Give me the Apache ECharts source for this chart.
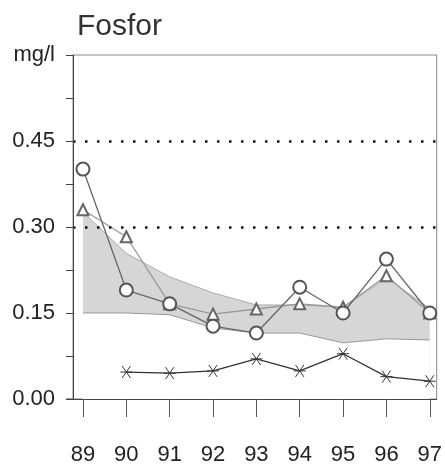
<!DOCTYPE html>
<html><head><meta charset="utf-8">
<script src="https://cdn.jsdelivr.net/npm/echarts@6/dist/echarts.min.js"></script>
<style>html,body{margin:0;padding:0;background:#fff}#c{width:445px;height:467px}</style>
</head><body><div id="c"></div>
<script>
const years = [89, 90, 91, 92, 93, 94, 95, 96, 97];
const circleVals = [0.401, 0.190, 0.166, 0.127, 0.115, 0.195, 0.150, 0.244, 0.150];
const triangleVals = [0.330, 0.283, 0.166, 0.148, 0.157, 0.166, 0.160, 0.215, 0.150];
const starYears = [90, 91, 92, 93, 94, 95, 96, 97];
const starVals = [0.047, 0.045, 0.049, 0.070, 0.049, 0.079, 0.039, 0.031];
const bandLower = [0.150, 0.150, 0.147, 0.124, 0.115, 0.115, 0.098, 0.105, 0.103];
const bandUpper = [0.326, 0.254, 0.213, 0.185, 0.164, 0.164, 0.160, 0.211, 0.158];
const yTickLabels = ['0.00', '0.15', '0.30', '0.45'];
const refLines = [0.30, 0.45];

const FONT = '"Liberation Sans", Arial, sans-serif';
const chart = echarts.init(document.getElementById('c'));
const pair = (xs, ys) => xs.map((x, i) => [x, ys[i]]);
const starPath = 'path://M-10,0L10,0M-7,-7L7,7M-7,7L7,-7';

chart.setOption({
  animation: false,
  title: { text: 'Fosfor', left: 72, top: 7, textStyle: { fontSize: 30, fontWeight: 'normal', color: '#333', fontFamily: FONT } },
  grid: { left: 73, right: 7, top: 55, bottom: 68, show: true, borderColor: '#888', borderWidth: 1 },
  xAxis: {
    type: 'value', min: 88.77, max: 97.16, z: 10,
    axisLine: { lineStyle: { color: '#444', width: 1 } },
    axisTick: { customValues: years, length: 18, inside: false, lineStyle: { color: '#555' } },
    axisLabel: { customValues: years, margin: 45, fontSize: 22, color: '#222', fontFamily: FONT, formatter: v => String(v) },
    splitLine: { show: false }
  },
  yAxis: {
    type: 'value', min: 0, max: 0.6, interval: 0.075, z: 10,
    axisLine: { show: true, lineStyle: { color: '#444' } },
    axisTick: { show: true, length: 7, lineStyle: { color: '#444' } },
    axisLabel: {
      fontSize: 22, color: '#222', fontFamily: FONT, margin: 18,
      formatter: v => {
        if (Math.abs(v - 0.6) < 1e-6) return 'mg/l';
        const k = Math.round(v / 0.15);
        if (Math.abs(v - k * 0.15) < 1e-6 && k < yTickLabels.length) return yTickLabels[k];
        return '';
      }
    },
    splitLine: { show: false }
  },
  graphic: [{ type: 'line', shape: { x1: 66, y1: 399, x2: 73, y2: 399 }, style: { stroke: '#444', lineWidth: 1 } }],
  series: [
    { type: 'line', data: pair(years, bandUpper), symbol: 'none', lineStyle: { width: 1, color: '#aaa' },
      areaStyle: { color: '#d6d6d6', opacity: 1, origin: 'start' }, z: 1 },
    { type: 'line', data: pair(years, bandLower), symbol: 'none', lineStyle: { width: 1, color: '#999' },
      areaStyle: { color: '#ffffff', opacity: 1, origin: 'start' }, z: 1 },
    { type: 'line', data: pair(years, triangleVals), symbol: 'emptyTriangle', symbolSize: 11,
      lineStyle: { color: '#999', width: 1.3 }, itemStyle: { color: '#666', borderColor: '#666', borderWidth: 1 }, z: 3 },
    { type: 'line', data: pair(years, circleVals), symbol: 'emptyCircle', symbolSize: 13,
      lineStyle: { color: '#666', width: 1.3 }, itemStyle: { color: '#555', borderColor: '#555', borderWidth: 1 }, z: 4 },
    { type: 'line', data: pair(starYears, starVals), symbol: starPath, symbolSize: 12,
      lineStyle: { color: '#333', width: 1.3 }, itemStyle: { color: 'transparent', borderColor: '#333', borderWidth: 1 }, z: 4,
      markLine: { silent: true, symbol: 'none', label: { show: false },
        lineStyle: { type: [2.5, 9.5], color: '#111', width: 2.5 },
        data: refLines.map(v => ({ yAxis: v })) } }
  ]
});
</script></body></html>
